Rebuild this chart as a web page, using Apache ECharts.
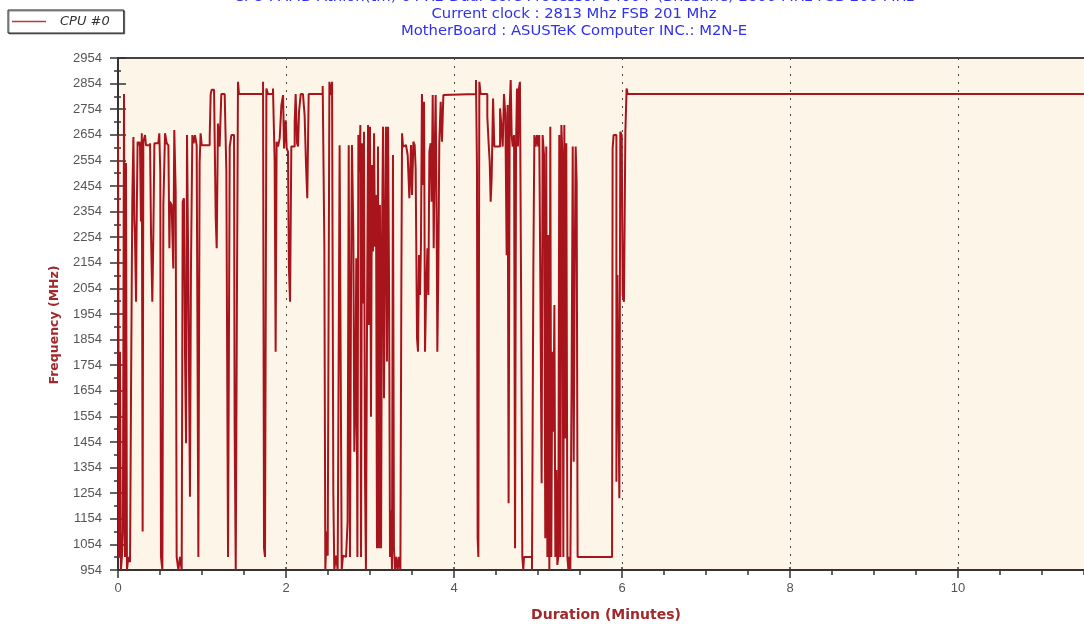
<!DOCTYPE html>
<html><head><meta charset="utf-8">
<script src="https://cdn.jsdelivr.net/npm/echarts@6/dist/echarts.min.js"></script>
<style>html,body{margin:0;padding:0;background:#fff}#c{width:1084px;height:624px}</style>
</head><body><div id="c"></div>
<script>
const titleLines = [
  'CPU : AMD Athlon(tm) 64 X2 Dual Core Processor 5400+ (Brisbane) 2800 MHz FSB 200 MHz',
  'Current clock : 2813 Mhz FSB 201 Mhz',
  'MotherBoard : ASUSTeK Computer INC.: M2N-E'
];
const seriesName = 'CPU #0';
const xAxisName = 'Duration (Minutes)';
const yAxisName = 'Frequency (MHz)';
const yMin = 954, yMax = 2954, yStep = 100;
const xMin = 0, xMax = 12, xStep = 2;

// elapsed time in seconds
const seconds = [
0,0.7,1.4,2.1,2.8,3.5,4.3,5.0,5.7,6.4,7.4,8.6,9.3,10.2,11.0,11.7,12.1,12.9,13.3,14.0,15.0,15.7,16.4,17.0,17.6,18.1,19.3,20.0,22.9,23.6,24.5,25.2,26.0,28.8,29.5,30.2,30.7,31.7,32.4,33.6,34.8,36.0,36.7,37.1,38.3,39.5,40.2,41.2,41.9,43.1,44.3,45.5,46.2,47.1,47.9,48.6,49.3,50.2,51.4,52.1,53.1,54.0,55.0,56.2,57.4,58.3,59.0,59.8,65.5,66.2,66.9,68.6,69.8,70.5,71.4,
72.6,73.8,76.2,77.4,78.6,79.8,81.0,82.1,82.9,83.3,84.1,85.0,85.7,86.4,103.6,104.3,105.0,106.0,107.1,110.7,111.9,112.6,113.3,114.3,115.5,116.7,117.9,118.6,119.8,120.5,121.4,122.1,122.9,123.8,125.0,126.2,126.9,127.9,128.6,129.3,130.5,132.1,133.3,134.3,135.2,136.2,
146.2,147.4,148.1,149.0,149.8,151.0,152.1,152.9,153.8,154.5,155.7,156.9,157.6,158.3,158.8,159.8,160.7,161.7,162.9,164.0,164.8,165.7,166.4,167.1,168.1,168.8,169.5,170.2,171.0,171.7,172.4,173.1,173.6,174.3,175.0,175.7,176.4,177.1,177.9,178.6,179.3,180.0,180.7,181.4,182.1,182.9,183.6,184.3,185.0,185.7,186.4,187.1,187.9,188.6,189.3,190.0,190.7,191.4,192.1,192.9,193.6,194.3,195.0,195.7,196.4,197.1,197.9,198.8,199.8,200.7,201.7,202.4,202.9,203.6,204.5,205.7,206.9,208.1,209.3,210.0,211.0,211.9,212.6,213.6,214.3,215.0,215.7,216.4,217.1,217.9,218.6,219.3,220.0,
221.0,221.7,222.4,223.3,224.0,224.8,225.5,226.2,226.9,227.6,228.1,228.8,229.5,230.5,231.4,232.4,233.3,255.7,256.4,256.9,257.4,258.1,259.0,263.8,264.8,265.5,266.2,266.9,267.9,268.8,272.9,273.8,274.8,275.7,276.7,277.6,278.3,279.0,279.8,280.5,281.2,281.9,282.9,283.6,284.3,285.0,285.7,286.4,287.1,287.9,288.8,289.5,290.0,
295.7,296.7,297.4,298.3,299.3,300.2,300.9,301.7,302.6,303.3,304.3,305.2,305.9,306.7,307.4,308.1,308.8,309.5,310.2,311.0,311.7,312.4,313.1,313.8,314.5,315.2,316.0,316.7,317.4,318.1,318.8,319.5,320.2,321.0,321.7,322.4,323.1,324.0,324.8,325.5,326.2,326.9,327.6,328.3,352.9,353.3,354.0,356.0,356.7,357.4,358.1,358.8,359.8,360.5,361.4,362.4,363.3,364.0,690
];
// CPU #0 frequency in MHz
const mhz = [
2654,1005,1807,954,1005,1100,2813,1005,2544,954,1005,985,1645,2392,2645,2315,2263,2002,2295,2627,2613,2627,2315,2660,1104,2627,2653,2613,2621,2263,2002,2243,2621,2621,2660,2510,1005,954,2380,2660,2621,2613,2211,2393,2380,2132,2673,2432,1005,954,1005,954,2393,2406,1781,1449,2653,2119,1240,2119,2653,2621,2653,2613,1005,2544,2660,2613,2647,2813,2830,2830,2330,2211,2698,
2608,2813,2809,2510,1005,2608,2653,2653,2614,1525,954,2067,2861,2813,2861,1039,1005,2835,2813,2835,2549,1807,2627,2608,2640,2770,2809,2601,2711,2601,2588,2132,2002,2608,2608,2705,2813,2621,2608,2744,2813,2813,2731,2536,2406,2813,
2845,2217,954,1104,1010,2861,2809,2861,1260,954,1010,954,1768,2613,2054,954,1010,1005,1010,1143,2613,1005,2002,2614,2263,1416,1605,2172,1005,2653,2510,2692,1005,2621,1995,2666,1338,954,1950,2692,1911,2685,1553,2536,2198,2660,2217,2419,1039,2608,1039,2380,1039,2256,2685,1625,2256,2685,1768,2685,2080,1005,1188,954,2575,1039,954,1005,954,1005,954,2080,2660,2608,2614,2608,2575,2406,2614,2419,2627,2614,2523,1859,1807,2184,2028,2224,2813,2458,2783,1807,2015,
2211,2028,2588,2621,2393,2809,2211,2575,2809,2315,1807,2106,2627,2783,2627,2809,2813,2868,2536,1078,1005,2861,2813,2725,2614,2549,2393,2484,2796,2608,2757,2692,2608,2813,2731,2184,2770,1215,2770,2868,2653,2608,2653,1039,2608,2835,2608,2835,2861,2067,1005,954,1005,
954,2145,2653,2608,2653,2608,2653,2054,1293,2653,2575,1078,2608,1005,2263,954,2685,1005,1807,1494,1989,1005,1345,974,1005,2653,1005,2692,2575,1005,2692,1468,2621,1005,954,1005,954,1696,2608,1377,2106,2608,2471,1005,1039,2601,2653,1299,2106,1664,1234,2666,2653,2028,2002,2666,2835,2813,2813
];

const data = seconds.map((s, i) => [s / 60, mhz[i]]);
const axisColor = '#333';
const tickLabelStyle = { color: '#555', fontSize: 13, fontFamily: 'Liberation Sans', formatter: v => String(v) };

const chart = echarts.init(document.getElementById('c'), null, { renderer: 'canvas' });
chart.setOption({
  animation: false,
  backgroundColor: '#fff',
  grid: { left: 118, top: 58, right: -42, bottom: 54, show: true, backgroundColor: '#FDF5E7', borderWidth: 0,
          containLabel: false, outerBoundsMode: 'none' },
  legend: {
    show: true, left: 8, top: 10,
    data: [{ name: seriesName, icon: 'rect' }],
    backgroundColor: '#fff', borderColor: '#222', borderWidth: 1,
    shadowColor: 'rgba(0,0,0,0.45)', shadowOffsetX: 1, shadowOffsetY: 1, shadowBlur: 0,
    padding: [4, 14, 4, 4], itemWidth: 34, itemHeight: 1.5,
    itemStyle: { color: '#B83A3A' },
    textStyle: { fontStyle: 'italic', fontSize: 13, color: '#333', fontFamily: 'DejaVu Sans', padding: [0, 0, 0, 9], lineHeight: 15 }
  },
  xAxis: [
    { type: 'value', min: xMin, max: xMax, interval: xStep, position: 'bottom',
      axisLine: { show: true, onZero: false, lineStyle: { color: axisColor, width: 2 } },
      axisTick: { show: true, inside: false, length: 8, lineStyle: { color: axisColor, width: 1.5 } },
      minorTick: { show: true, splitNumber: 4, length: 5, lineStyle: { color: axisColor, width: 1.5 } },
      axisLabel: Object.assign({ margin: 12 }, tickLabelStyle),
      splitLine: { show: true, lineStyle: { color: '#444', width: 1, type: [2, 6] } } },
    { type: 'value', min: xMin, max: xMax, interval: xStep, position: 'bottom',
      axisLine: { show: false, onZero: false },
      axisTick: { show: true, inside: true, length: 3, lineStyle: { color: axisColor, width: 1.5 } },
      minorTick: { show: true, splitNumber: 4, length: 1, lineStyle: { color: axisColor, width: 1.5 } },
      axisLabel: { show: false }, splitLine: { show: false } },
    { type: 'value', min: xMin, max: xMax, interval: xStep, position: 'top',
      axisLine: { show: true, onZero: false, lineStyle: { color: '#444', width: 2 } },
      axisTick: { show: false }, axisLabel: { show: false }, splitLine: { show: false } }
  ],
  yAxis: [
    { type: 'value', min: yMin, max: yMax, interval: yStep, position: 'left',
      axisLine: { show: true, onZero: false, lineStyle: { color: axisColor, width: 2 } },
      axisTick: { show: true, inside: false, length: 8, lineStyle: { color: axisColor, width: 1.5 } },
      minorTick: { show: true, splitNumber: 2, length: 4, lineStyle: { color: axisColor, width: 1.5 } },
      axisLabel: Object.assign({ margin: 16 }, tickLabelStyle),
      splitLine: { show: false } },
    { type: 'value', min: yMin, max: yMax, interval: yStep, position: 'left',
      axisLine: { show: false, onZero: false },
      axisTick: { show: true, inside: true, length: 8, lineStyle: { color: axisColor, width: 1.5 } },
      minorTick: { show: true, splitNumber: 2, length: 3, lineStyle: { color: axisColor, width: 1.5 } },
      axisLabel: { show: false }, splitLine: { show: false } }
  ],
  series: [{
    name: seriesName, type: 'line', xAxisIndex: 0, yAxisIndex: 0,
    data: data, step: 'end', symbol: 'none', showSymbol: false,
    lineStyle: { color: '#A8141C', width: 2 }, itemStyle: { color: '#A8141C' }
  }],
  graphic: [
    { type: 'text', x: 574, y: -3, style: { text: titleLines[0], fill: '#3030EE', font: '14.8px "DejaVu Sans"', textAlign: 'center', textVerticalAlign: 'middle' } },
    { type: 'text', x: 574, y: 14, style: { text: titleLines[1], fill: '#3030EE', font: '14.8px "DejaVu Sans"', textAlign: 'center', textVerticalAlign: 'middle' } },
    { type: 'text', x: 574, y: 31, style: { text: titleLines[2], fill: '#3030EE', font: '14.8px "DejaVu Sans"', textAlign: 'center', textVerticalAlign: 'middle' } },
    { type: 'text', x: 606, y: 615, style: { text: xAxisName, fill: '#A3282A', font: 'bold 14px "DejaVu Sans"', textAlign: 'center', textVerticalAlign: 'middle' } },
    { type: 'text', x: 55, y: 325, rotation: Math.PI / 2, style: { text: yAxisName, fill: '#A3282A', font: 'bold 12.5px "DejaVu Sans"', textAlign: 'center', textVerticalAlign: 'middle' } }
  ]
});
</script>
</body></html>
